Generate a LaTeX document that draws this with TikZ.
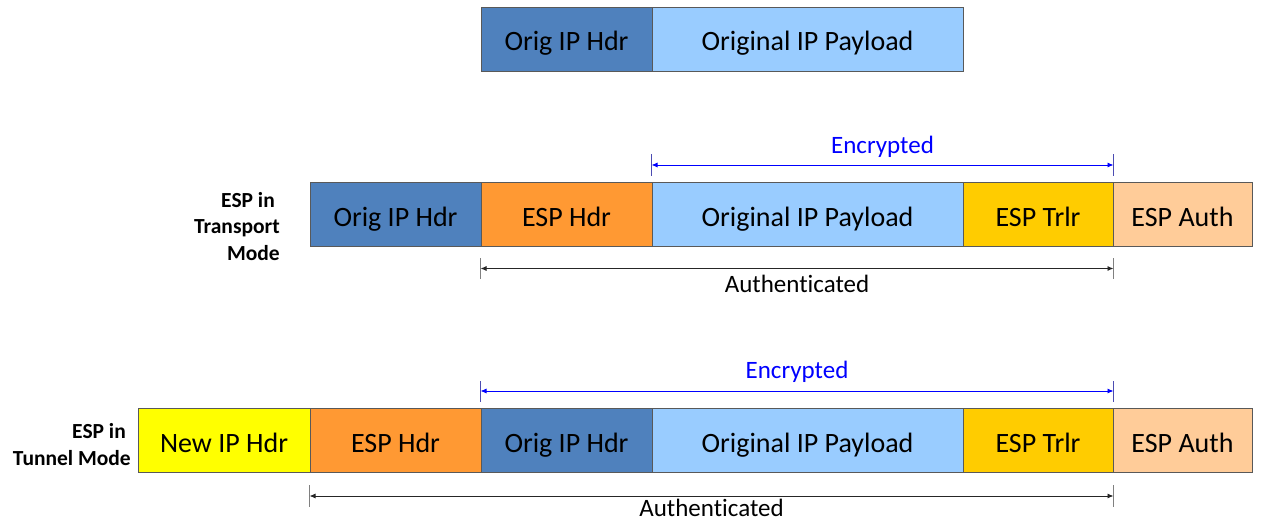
\documentclass[tikz,border=0pt]{standalone}
\usepackage{fontspec}
\setmainfont[Ligatures={NoCommon}]{Carlito}
\usetikzlibrary{calc,arrows.meta}
\definecolor{hdrblue}{HTML}{4F81BD}
\definecolor{payblue}{HTML}{99CCFF}
\definecolor{esporange}{HTML}{FF9933}
\definecolor{trlyellow}{HTML}{FFCC00}
\definecolor{authpeach}{HTML}{FFCC99}
\definecolor{newyellow}{HTML}{FFFF00}
\definecolor{edgegray}{HTML}{595959}
\definecolor{encblue}{HTML}{0000FF}
\tikzset{
  pkt/.style={draw=edgegray, line width=1pt, minimum height=64pt, inner sep=0pt,
    font=\fontsize{28}{34}\selectfont, text height=24pt, text depth=1pt},
  encline/.style={draw=encblue, line width=0.9pt, {Latex[length=6pt,width=5pt]}-{Latex[length=6pt,width=5pt]}},
  authline/.style={draw=black!85, line width=0.9pt, {Latex[length=6pt,width=5pt]}-{Latex[length=6pt,width=5pt]}},
  enctick/.style={draw=encblue!40!gray, line width=0.8pt},
  authtick/.style={draw=gray, line width=0.8pt},
  enclabel/.style={text=encblue, font=\fontsize{25}{30}\selectfont, text height=19pt, text depth=1pt, inner sep=0pt},
  authlabel/.style={text=black, font=\fontsize{25}{30}\selectfont, text height=19pt, text depth=1pt, inner sep=0pt},
  modelabel/.style={font=\bfseries\fontsize{21.5}{26.5}\selectfont, align=right, inner sep=0pt, anchor=east}
}
\begin{document}
\begin{tikzpicture}[x=1pt,y=-1pt]
\useasboundingbox (0,0) rectangle (1261,521);
% Row 1
\node[pkt, fill=hdrblue, minimum width=171pt] (oip1) at (566.5,39.5) {Orig IP Hdr};
\node[pkt, fill=payblue, minimum width=311pt] (pay1) at (807.5,39.5) {Original IP Payload};
% Row 2
\node[pkt, fill=hdrblue, minimum width=171pt] (oip2) at (395.5,215) {Orig IP Hdr};
\node[pkt, fill=esporange, minimum width=171pt] (esph2) at (566.5,215) {ESP Hdr};
\node[pkt, fill=payblue, minimum width=311pt] (pay2) at (807.5,215) {Original IP Payload};
\node[pkt, fill=trlyellow, minimum width=150pt] (trl2) at (1038,215) {ESP Trlr};
\node[pkt, fill=authpeach, minimum width=139pt] (auth2) at (1182.5,215) {ESP Auth};
\node[modelabel] (mode2) at (280,226.5) {ESP in\hspace*{5pt}\\Transport\\Mode};
% Row 2 arrows
\coordinate (e2a1) at ($(pay2.north west)+(0,-28)$);
\coordinate (e2a2) at ($(pay2.north west)+(0,-6)$);
\coordinate (e2b1) at ($(trl2.north east)+(0,-28)$);
\coordinate (e2b2) at ($(trl2.north east)+(0,-6)$);
\coordinate (e2l) at ($(pay2.north west)+(0,-17.5)$);
\coordinate (e2r) at ($(trl2.north east)+(0,-17.5)$);
\draw[enctick] (e2a1) -- (e2a2);
\draw[enctick] (e2b1) -- (e2b2);
\draw[encline] (e2l) -- (e2r);
\node[enclabel] (enc2) at (882.5,145) {Encrypted};
\coordinate (a2a1) at ($(esph2.south west)+(0,11)$);
\coordinate (a2a2) at ($(esph2.south west)+(0,32)$);
\coordinate (a2b1) at ($(trl2.south east)+(0,11)$);
\coordinate (a2b2) at ($(trl2.south east)+(0,32)$);
\coordinate (a2l) at ($(esph2.south west)+(0,21)$);
\coordinate (a2r) at ($(trl2.south east)+(0,21)$);
\draw[authtick] (a2a1) -- (a2a2);
\draw[authtick] (a2b1) -- (a2b2);
\draw[authline] (a2l) -- (a2r);
\node[authlabel] (au2) at (797,284) {Authenticated};
% Row 3
\node[pkt, fill=newyellow, minimum width=172pt] (new3) at (224,440.5) {New IP Hdr};
\node[pkt, fill=esporange, minimum width=171pt] (esph3) at (395.5,440.5) {ESP Hdr};
\node[pkt, fill=hdrblue, minimum width=171pt] (oip3) at (566.5,440.5) {Orig IP Hdr};
\node[pkt, fill=payblue, minimum width=311pt] (pay3) at (807.5,440.5) {Original IP Payload};
\node[pkt, fill=trlyellow, minimum width=150pt] (trl3) at (1038,440.5) {ESP Trlr};
\node[pkt, fill=authpeach, minimum width=139pt] (auth3) at (1182.5,440.5) {ESP Auth};
\node[modelabel] (mode3) at (131,444.5) {ESP in\hspace*{5pt}\\Tunnel Mode};
% Row 3 arrows
\coordinate (e3a1) at ($(oip3.north west)+(0,-27)$);
\coordinate (e3a2) at ($(oip3.north west)+(0,-6)$);
\coordinate (e3b1) at ($(trl3.north east)+(0,-27)$);
\coordinate (e3b2) at ($(trl3.north east)+(0,-6)$);
\coordinate (e3l) at ($(oip3.north west)+(0,-17)$);
\coordinate (e3r) at ($(trl3.north east)+(0,-17)$);
\draw[enctick] (e3a1) -- (e3a2);
\draw[enctick] (e3b1) -- (e3b2);
\draw[encline] (e3l) -- (e3r);
\node[enclabel] (enc3) at (797,369) {Encrypted};
\coordinate (a3a1) at ($(esph3.south west)+(0,12)$);
\coordinate (a3a2) at ($(esph3.south west)+(0,34)$);
\coordinate (a3b1) at ($(trl3.south east)+(0,12)$);
\coordinate (a3b2) at ($(trl3.south east)+(0,34)$);
\coordinate (a3l) at ($(esph3.south west)+(0,23)$);
\coordinate (a3r) at ($(trl3.south east)+(0,23)$);
\draw[authtick] (a3a1) -- (a3a2);
\draw[authtick] (a3b1) -- (a3b2);
\draw[authline] (a3l) -- (a3r);
\node[authlabel] (au3) at (711.5,507.5) {Authenticated};
\end{tikzpicture}
\end{document}
